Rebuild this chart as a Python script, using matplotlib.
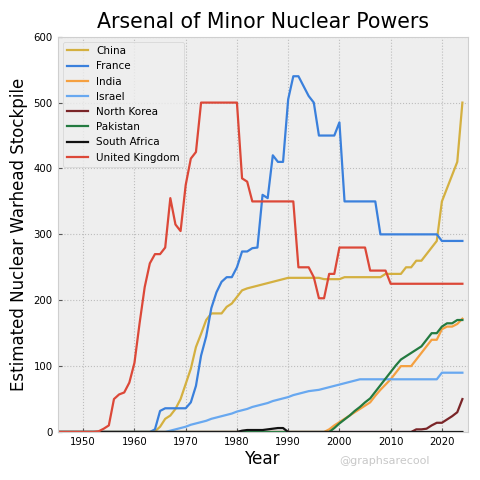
import matplotlib
matplotlib.use("Agg")
import matplotlib.pyplot as plt

years = list(range(1945, 2025))

china = [0]*19 + [1, 8, 20, 25, 35, 50, 73, 96, 129, 149, 170, 180, 180, 180, 190, 195, 205,
                  215, 218, 220, 222, 224, 226, 228, 230, 232, 234,
                  234, 234, 234, 234, 234, 234,
                  232, 232, 232, 232,
                  235, 235, 235, 235, 235, 235, 235, 235,
                  240, 240, 240, 240,
                  250, 250, 260, 260, 270, 280, 290, 350, 370, 390, 410, 500]
france = [0]*19 + [4, 32, 36, 36, 36, 36, 36, 45, 70, 116, 145, 188, 212, 228, 235, 235, 250,
                   274, 274, 279, 280, 360, 355, 420, 410, 410, 505, 540, 540, 525, 510, 500,
                   450, 450, 450, 450, 470,
                   350, 350, 350, 350, 350, 350, 350,
                   300, 300, 300, 300, 300, 300, 300, 300, 300, 300, 300, 300,
                   290, 290, 290, 290, 290]
india = [0]*53 + [4, 10, 15, 20, 25, 30, 35, 40, 45, 55, 64, 72, 80, 90, 100, 100, 100,
                  110, 120, 130, 140, 140, 156, 160, 160, 164, 172]
israel = [0]*22 + [2, 4, 6, 8, 11, 13, 15, 17, 20, 22, 24, 26, 28, 31, 33, 35, 38, 40, 42, 44,
                   47, 49, 51, 53, 56, 58, 60, 62, 63, 64, 66, 68, 70, 72, 74, 76, 78,
                   80, 80, 80, 80, 80, 80, 80, 80, 80, 80, 80, 80, 80, 80, 80, 80,
                   90, 90, 90, 90, 90]
north_korea = [0]*69 + [0, 4, 4, 5, 10, 14, 14, 19, 24, 30, 50]
pakistan = [0]*53 + [0, 6, 13, 19, 25, 32, 38, 45, 51, 61, 71, 81, 91, 101, 110, 115, 120,
                     125, 130, 140, 150, 150, 160, 165, 165, 170, 170]
south_africa = [0]*36 + [2, 3, 3, 3, 3, 4, 5, 6, 6] + [0]*35
uk = [0]*8 + [1, 5, 10, 50, 57, 60, 75, 105, 165, 220, 256, 270, 270, 280, 355, 315, 305,
              375, 415, 425,
              500, 500, 500, 500, 500, 500, 500, 500,
              385, 380,
              350, 350, 350, 350, 350, 350, 350, 350, 350,
              250, 250, 250, 235, 203, 203, 240, 240,
              280, 280, 280, 280, 280, 280,
              245, 245, 245, 245,
              225, 225, 225, 225, 225, 225, 225, 225, 225, 225, 225, 225, 225, 225, 225]

countries = ["China", "France", "India", "Israel", "North Korea", "Pakistan",
             "South Africa", "United Kingdom"]
colors = ["#d4b040", "#3a80dc", "#f5a040", "#68a8f0", "#7a2528", "#237a40",
          "#111111", "#dc4838"]

plt.style.use("bmh")
fig = plt.figure(figsize=(4.8, 4.8), dpi=100)
ax = fig.add_subplot(111)
fig.subplots_adjust(left=0.12, right=0.974, bottom=0.1, top=0.9235)

series = [china, france, india, israel, north_korea, pakistan, south_africa, uk]
for name, vals, c in zip(countries, series, colors):
    ax.plot(years, vals, color=c, lw=1.6, label=name)

ax.set_xlim(1945, 2025)
ax.set_ylim(0, 600)
ax.set_xticks(range(1950, 2021, 10))
ax.set_yticks(range(0, 601, 100))
ax.grid(True, linestyle=":", color="#bdbdbd", linewidth=0.8)
ax.tick_params(labelsize=7.3, direction="in", length=3, color="#555555")
for s in ax.spines.values():
    s.set_color("#cfcfcf")
ax.set_title("Arsenal of Minor Nuclear Powers", fontsize=14.8)
ax.set_xlabel("Year", fontsize=12.2, labelpad=2)
ax.set_ylabel("Estimated Nuclear Warhead Stockpile", fontsize=12)
ax.legend(loc="upper left", fontsize=7.5)
fig.text(0.80, 0.033, "@graphsarecool", color="#c8c8c8", fontsize=8, ha="center")

fig.savefig("out.png", dpi=100)
